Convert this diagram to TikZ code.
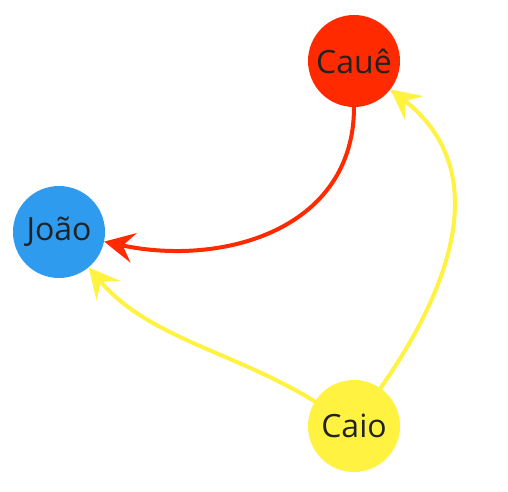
\documentclass[tikz,border=0pt]{standalone}
\usepackage{fontspec}
\setmainfont{Open Sans}
\usepackage{xcolor}
\usepackage{tikz}
\usetikzlibrary{arrows.meta}

\definecolor{caueRed}{HTML}{FF2A00}
\definecolor{joaoBlue}{HTML}{2E9BEE}
\definecolor{caioYellow}{HTML}{FFF240}
\definecolor{nameInk}{HTML}{222222}

\begin{document}
\begin{tikzpicture}[x=1pt, y=1pt,
    person/.style={circle, minimum size=92pt, inner sep=0pt, text=nameInk,
                   font=\fontsize{32}{36}\selectfont},
    link/.style={line width=4pt, line cap=round, arrows={-Stealth[length=30pt, width=30pt, inset=11pt]}}]
  \useasboundingbox (0,0) rectangle (508,491);

  % People
  \node[person, fill=caueRed] (caue) at (354,430) {Cauê};
  \node[person, fill=joaoBlue] (joao) at (59,259) {João};
  \node[person, fill=caioYellow] (caio) at (354,65) {Caio};

  % Links
  \draw[link, caueRed] (caue) to[out=-90, in=-12, looseness=1.1] (joao);
  \draw[link, caioYellow] (caio) to[out=148, in=-50, looseness=0.9] (joao);
  \draw[link, caioYellow] (caio) to[out=55, in=-38, looseness=1.1] (caue);
\end{tikzpicture}
\end{document}
